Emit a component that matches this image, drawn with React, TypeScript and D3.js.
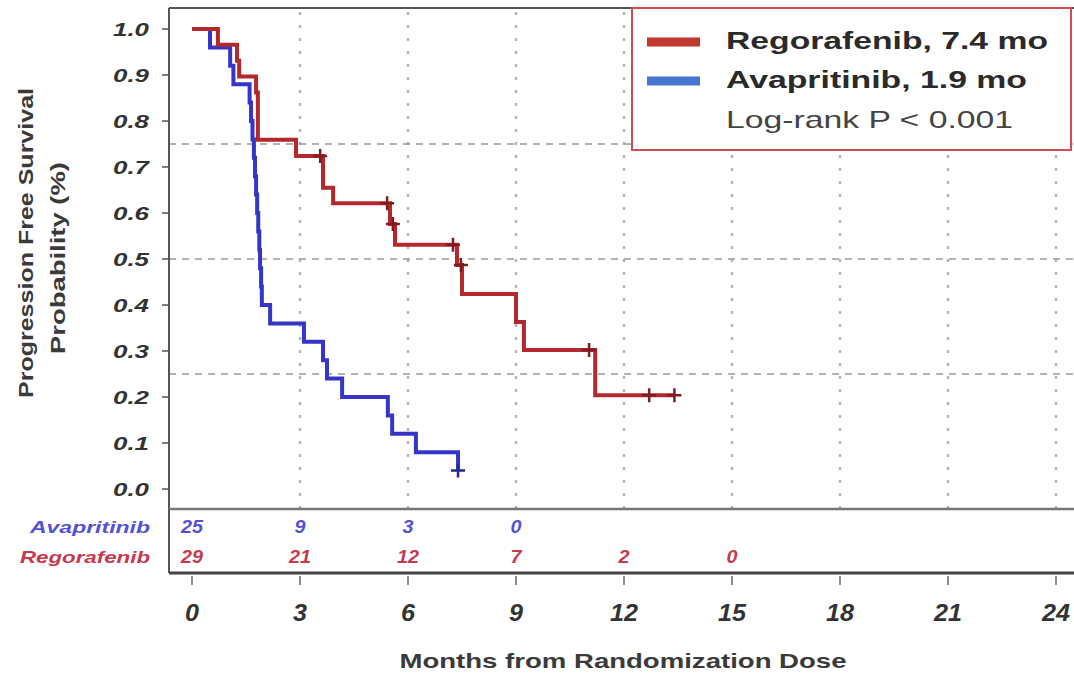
import React from 'react';
import * as d3 from 'd3';

// Kaplan-Meier steps (months, survival probability)
const regoTimes = [0, 0.72, 1.25, 1.31, 1.78, 1.83, 2.89, 3.64, 3.92, 5.5, 5.64, 7.36, 7.5, 9.0, 9.22, 11.2, 13.4];
const regoSurv = [1.0, 0.966, 0.931, 0.897, 0.862, 0.759, 0.724, 0.655, 0.621, 0.576, 0.531, 0.487, 0.424, 0.363, 0.302, 0.204, 0.204];
const regoCensorTimes = [3.56, 5.42, 5.58, 7.25, 7.47, 11.03, 12.7, 13.4];
const regoCensorSurv = [0.724, 0.621, 0.576, 0.531, 0.487, 0.302, 0.204, 0.204];

const avaTimes = [0, 0.5, 1.06, 1.15, 1.6, 1.64, 1.68, 1.72, 1.75, 1.78, 1.81, 1.84, 1.87, 1.89, 1.92, 1.94, 2.17, 3.11, 3.64, 3.75, 4.17, 5.44, 5.56, 6.22, 7.39];
const avaSurv = [1.0, 0.96, 0.92, 0.88, 0.84, 0.8, 0.76, 0.72, 0.68, 0.64, 0.6, 0.56, 0.52, 0.48, 0.44, 0.4, 0.36, 0.32, 0.28, 0.24, 0.2, 0.16, 0.12, 0.08, 0.04];
const avaCensorTimes = [7.39];
const avaCensorSurv = [0.04];

// numbers at risk
const riskTimes = [0, 3, 6, 9, 12, 15];
const avaAtRisk = ['25', '9', '3', '0'];
const regoAtRisk = ['29', '21', '12', '7', '2', '0'];

const xTicks = [0, 3, 6, 9, 12, 15, 18, 21, 24];
const yTicks = [0, 0.1, 0.2, 0.3, 0.4, 0.5, 0.6, 0.7, 0.8, 0.9, 1.0];
const yRefLines = [0.25, 0.5, 0.75];

const legendLabels = ['Regorafenib, 7.4 mo', 'Avapritinib, 1.9 mo'];
const pValueText = 'Log-rank P < 0.001';

const W = 1074, H = 673;
const frameLeft = 169, frameTop = 8, plotBottom = 509, tableBottom = 573, frameRight = 1080;

const RED = '#b2282d';
const BLUE = '#3535c8';
const FONT = '"Liberation Sans", Arial, sans-serif';

export default function App() {
    const x = d3.scaleLinear().domain([0, 24]).range([192, 1056]);
    const y = d3.scaleLinear().domain([0, 1]).range([489, 29]);

    const line = d3.line<[number, number]>()
        .x(d => x(d[0]))
        .y(d => y(d[1]))
        .curve(d3.curveStepAfter);

    const regoPts = regoTimes.map((t, i) => [t, regoSurv[i]] as [number, number]);
    const avaPts = avaTimes.map((t, i) => [t, avaSurv[i]] as [number, number]);

    const cross = (t: number, s: number, color: string, key: string) => (
        <path key={key} d={`M${x(t) - 7},${y(s)}h14M${x(t)},${y(s) - 7}v14`}
            stroke={color} strokeWidth={2.5} fill="none" />
    );

    return (
        <svg width={W} height={H} style={{ position: 'absolute', left: 0, top: 0, background: '#fff' }}
            fontFamily={FONT}>
            <rect x={0} y={0} width={W} height={H} fill="#fff" />

            {/* grid */}
            {xTicks.filter(t => t > 0).map(t => (
                <line key={'gx' + t} x1={x(t)} x2={x(t)} y1={frameTop + 4} y2={plotBottom}
                    stroke="#b5b5b5" strokeWidth={2.5} strokeDasharray="3,10" />
            ))}
            {yRefLines.map(v => (
                <line key={'gy' + v} x1={frameLeft} x2={W} y1={y(v)} y2={y(v)}
                    stroke="#9a9a9a" strokeWidth={1.5} strokeDasharray="7,6" />
            ))}

            {/* curves */}
            <path d={line(avaPts) || ''} fill="none" stroke={BLUE} strokeWidth={4} />
            <path d={line(regoPts) || ''} fill="none" stroke={RED} strokeWidth={4} />
            {avaCensorTimes.map((t, i) => cross(t, avaCensorSurv[i], '#28288a', 'ac' + i))}
            {regoCensorTimes.map((t, i) => cross(t, regoCensorSurv[i], '#7e1c20', 'rc' + i))}

            {/* frame */}
            <line x1={frameLeft} x2={frameRight} y1={frameTop} y2={frameTop} stroke="#555" strokeWidth={2} />
            <line x1={frameLeft} x2={frameLeft} y1={frameTop} y2={tableBottom} stroke="#555" strokeWidth={2} />
            <line x1={frameLeft} x2={frameRight} y1={plotBottom} y2={plotBottom} stroke="#777" strokeWidth={2.5} />
            <line x1={frameLeft} x2={frameRight} y1={tableBottom} y2={tableBottom} stroke="#444" strokeWidth={3} />

            {/* y axis */}
            {yTicks.map(v => (
                <g key={'yt' + v}>
                    <line x1={frameLeft - 7} x2={frameLeft} y1={y(v)} y2={y(v)} stroke="#555" strokeWidth={1.5} />
                    <text x={149} y={y(v) + 7} textAnchor="end" fontSize={19} fontWeight="bold"
                        fontStyle="italic" fill="#333" textLength={36} lengthAdjust="spacingAndGlyphs">
                        {v.toFixed(1)}
                    </text>
                </g>
            ))}
            <text transform="translate(33,243) rotate(-90)" textAnchor="middle" fontSize={21}
                fontWeight="bold" fill="#3a3a3a" textLength={310} lengthAdjust="spacingAndGlyphs">
                Progression Free Survival
            </text>
            <text transform="translate(65,258) rotate(-90)" textAnchor="middle" fontSize={21}
                fontWeight="bold" fill="#3a3a3a" textLength={192} lengthAdjust="spacingAndGlyphs">
                Probability (%)
            </text>

            {/* x axis */}
            {xTicks.map(t => (
                <g key={'xt' + t}>
                    <line x1={x(t)} x2={x(t)} y1={tableBottom + 3} y2={tableBottom + 12} stroke="#666" strokeWidth={1.5} />
                    <text x={x(t)} y={621} textAnchor="middle" fontSize={24} fontWeight="bold"
                        fontStyle="italic" fill="#333"
                        textLength={String(t).length * 14} lengthAdjust="spacingAndGlyphs">
                        {t}
                    </text>
                </g>
            ))}
            <text x={623} y={668} textAnchor="middle" fontSize={21} fontWeight="bold" fill="#3a3a3a"
                textLength={447} lengthAdjust="spacingAndGlyphs">
                Months from Randomization Dose
            </text>

            {/* numbers at risk */}
            <text x={150} y={533} textAnchor="end" fontSize={17} fontWeight="bold" fontStyle="italic"
                fill="#5252d2" textLength={120} lengthAdjust="spacingAndGlyphs">Avapritinib</text>
            <text x={150} y={563} textAnchor="end" fontSize={17} fontWeight="bold" fontStyle="italic"
                fill="#c8384e" textLength={130} lengthAdjust="spacingAndGlyphs">Regorafenib</text>
            {avaAtRisk.map((n, i) => (
                <text key={'an' + i} x={x(riskTimes[i])} y={533} textAnchor="middle" fontSize={18}
                    fontWeight="bold" fontStyle="italic" fill="#5252d2"
                    textLength={n.length * 11} lengthAdjust="spacingAndGlyphs">{n}</text>
            ))}
            {regoAtRisk.map((n, i) => (
                <text key={'rn' + i} x={x(riskTimes[i])} y={563} textAnchor="middle" fontSize={18}
                    fontWeight="bold" fontStyle="italic" fill="#c8384e"
                    textLength={n.length * 11} lengthAdjust="spacingAndGlyphs">{n}</text>
            ))}

            {/* legend */}
            <rect x={632} y={frameTop} width={439} height={142} fill="#fff" stroke="#cf4f50" strokeWidth={2} />
            <line x1={647} x2={700} y1={42} y2={42} stroke="#c0392f" strokeWidth={9} />
            <line x1={647} x2={700} y1={81} y2={81} stroke="#4675d0" strokeWidth={9} />
            <text x={726} y={49} fontSize={24} fontWeight="bold" fill="#2a2a2a"
                textLength={322} lengthAdjust="spacingAndGlyphs">{legendLabels[0]}</text>
            <text x={726} y={88} fontSize={24} fontWeight="bold" fill="#2a2a2a"
                textLength={301} lengthAdjust="spacingAndGlyphs">{legendLabels[1]}</text>
            <text x={726} y={128} fontSize={24} fill="#444"
                textLength={287} lengthAdjust="spacingAndGlyphs">{pValueText}</text>
        </svg>
    );
}
